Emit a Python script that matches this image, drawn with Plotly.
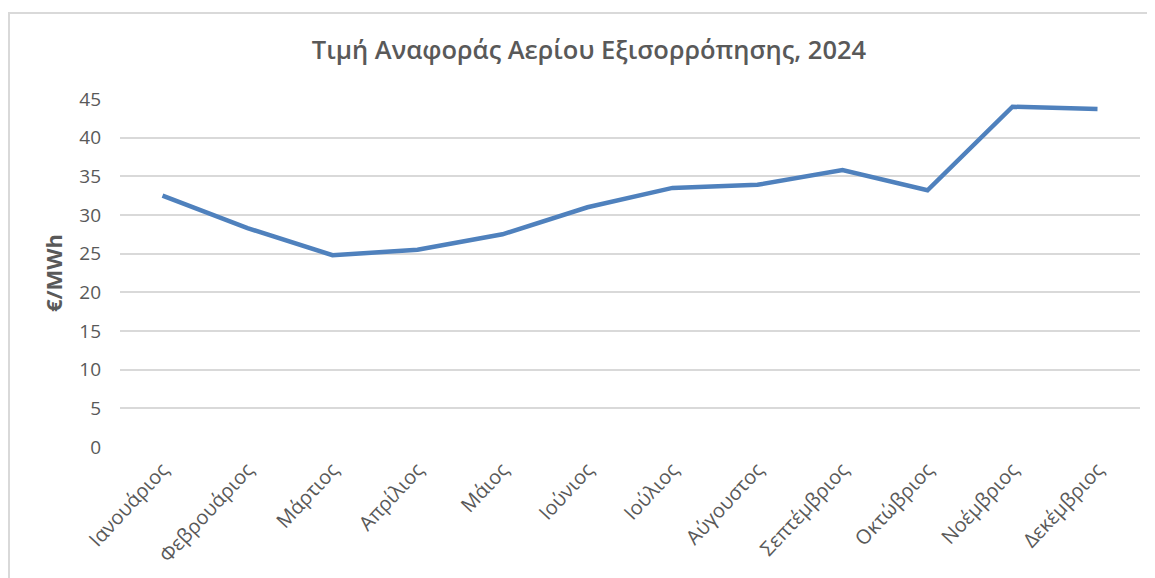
import plotly.graph_objects as go

months = ["Ιανουάριος", "Φεβρουάριος", "Μάρτιος", "Απρίλιος", "Μάιος", "Ιούνιος",
          "Ιούλιος", "Αύγουστος", "Σεπτέμβριος", "Οκτώβριος", "Νοέμβριος", "Δεκέμβριος"]
prices = [32.5, 28.3, 24.8, 25.5, 27.5, 31.0, 33.5, 33.9, 35.8, 33.2, 44.0, 43.7]
y_ticks = [0, 5, 10, 15, 20, 25, 30, 35, 40, 45]

fig = go.Figure()
fig.add_trace(go.Scatter(
    x=months, y=prices, mode="lines",
    line=dict(color="#4F81BD", width=4.5),
    showlegend=False,
))

fig.update_layout(
    width=1155, height=578,
    paper_bgcolor="white", plot_bgcolor="white",
    margin=dict(l=112, r=23, t=91, b=139),
    title=dict(text="Τιμή Αναφοράς Αερίου Εξισορρόπησης, 2024",
               xref="container", x=581 / 1155,
               xanchor="center", y=1 - 42 / 578, yanchor="middle",
               font=dict(family="Open Sans", size=25.5, color="#595959", weight=600)),
    font=dict(family="Open Sans", color="#595959"),
)
fig.update_xaxes(
    range=[-0.5, 11.5], automargin=False,
    tickangle=-47, tickfont=dict(size=20, color="#595959"),
    showgrid=False, showline=False, ticks="", ticklabelstandoff=6,
)
fig.update_yaxes(
    range=[0, 45], tickvals=y_ticks, automargin=False,
    tickfont=dict(size=19, color="#595959"),
    showgrid=True, gridcolor="#D9D9D9", gridwidth=1.5,
    zeroline=False, showline=False, ticks="", ticklabelstandoff=18,
    title=dict(text="<b>€/MWh</b>", font=dict(size=22, color="#595959"), standoff=10),
)
fig.add_shape(type="rect", xref="paper", yref="paper",
              x0=-111/1020, x1=1.0 + 40/1020, y0=-160/348, y1=1.0 + 86/348,
              line=dict(color="#D9D9D9", width=2), fillcolor="rgba(0,0,0,0)")

fig.write_html("out.html")
